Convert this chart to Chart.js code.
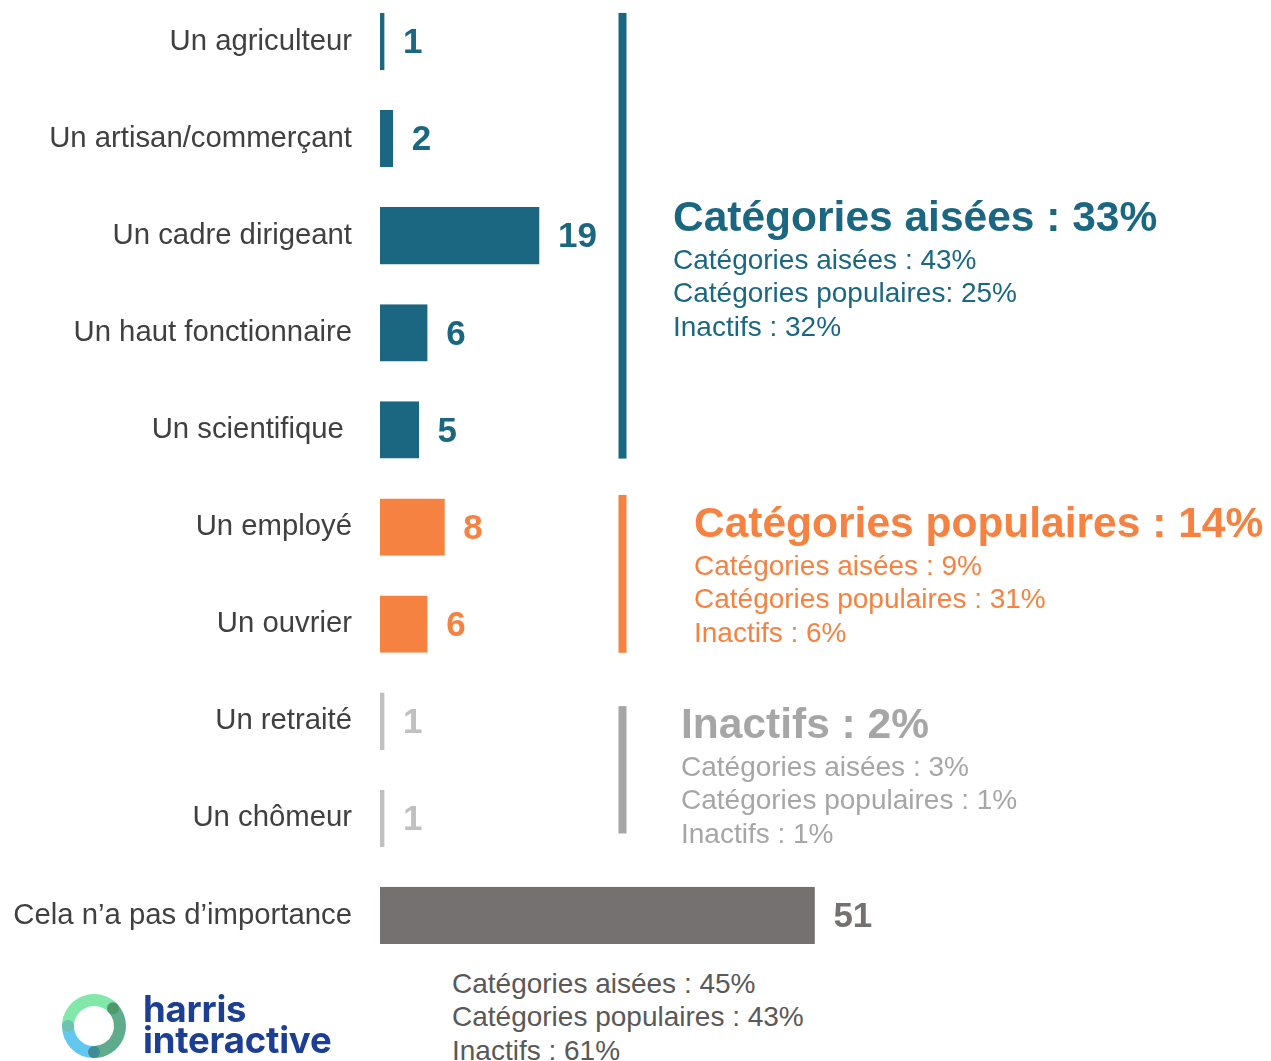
<!DOCTYPE html>
<html lang="fr">
<head>
<meta charset="utf-8">
<title>Profession</title>
<script src="https://cdn.jsdelivr.net/npm/chart.js@4.4.1/dist/chart.umd.min.js"></script>
<style>
  html, body { margin: 0; padding: 0; background: #fff; }
  body {
    width: 1271px; height: 1061px; position: relative; overflow: hidden;
    font-family: "Liberation Sans", Arial, sans-serif;
  }
  #chart-wrap { position: absolute; left: 0; top: -7px; width: 1271px; height: 971px; }
  .note { position: absolute; white-space: nowrap; }
  .note .title { font-weight: bold; font-size: 42.5px; line-height: 42px; }
  .note .sub { font-size: 28px; line-height: 33.5px; margin-top: 4.5px; }
  .blue { color: #1b6781; }
  .orange { color: #f58240; }
  .grey { color: #a6a6a6; }
  #bottom-note { position: absolute; left: 452px; top: 966.5px; font-size: 28px; line-height: 33.5px; color: #595959; white-space: nowrap; }
  #logo { position: absolute; left: 0; top: 960px; }
  #logo-text {
    position: absolute; left: 143px; top: 994px;
    font-family: Inter, "Noto Sans", sans-serif; font-weight: 700; font-size: 36.5px;
    line-height: 31px; letter-spacing: -0.2px; color: #1c3f94;
  }
</style>
</head>
<body>
<div id="chart-wrap"><canvas id="professionChart"></canvas></div>

<!-- Group summaries -->
<div class="note blue" style="left:673px; top:196px;">
  <div class="title">Catégories aisées : 33%</div>
  <div class="sub">Catégories aisées : 43%<br>Catégories populaires: 25%<br>Inactifs : 32%</div>
</div>
<div class="note orange" style="left:694px; top:502px;">
  <div class="title">Catégories populaires : 14%</div>
  <div class="sub">Catégories aisées : 9%<br>Catégories populaires : 31%<br>Inactifs : 6%</div>
</div>
<div class="note grey" style="left:681px; top:703px;">
  <div class="title">Inactifs : 2%</div>
  <div class="sub">Catégories aisées : 3%<br>Catégories populaires : 1%<br>Inactifs : 1%</div>
</div>
<div id="bottom-note">Catégories aisées : 45%<br>Catégories populaires : 43%<br>Inactifs : 61%</div>

<!-- Logo -->
<svg id="logo" width="140" height="101" viewBox="0 0 140 101">
  <g fill="none" stroke-width="12">
    <path d="M68 66 A26 26 0 0 1 113 48.3" stroke="#82e8a9"/>
    <path d="M113 48.3 A26 26 0 0 1 94 92" stroke="#5fac8d"/>
    <path d="M94 92 A26 26 0 0 1 68 66" stroke="#63c7ef"/>
  </g>
  <circle cx="113" cy="48.3" r="6" fill="#4c9a6a"/>
  <circle cx="68" cy="66" r="6" fill="#6ec1b0"/>
  <circle cx="94" cy="92" r="6" fill="#3d8c98"/>
</svg>
<div id="logo-text">harris<br>interactive</div>

<script>
// Data
const categories = [
	"Un agriculteur",
	"Un artisan/commerçant",
	"Un cadre dirigeant",
	"Un haut fonctionnaire",
	"Un scientifique ",
	"Un employé",
	"Un ouvrier",
	"Un retraité",
	"Un chômeur",
	"Cela n’a pas d’importance",
];
const values = [1, 2, 19, 6, 5, 8, 6, 1, 1, 51];

// Styles
const BLUE = "#1b6781";
const ORANGE = "#f58240";
const LIGHT_GREY = "#c0c0c0";
const DARK_GREY = "#767171";
const barColors = [BLUE, BLUE, BLUE, BLUE, BLUE, ORANGE, ORANGE, LIGHT_GREY, LIGHT_GREY, DARK_GREY];

// vertical brackets next to each group (bar indexes, extra inset in px)
const groupLines = [
	{ from: 0, to: 4, color: BLUE, insetTop: 0, insetBottom: 0 },
	{ from: 5, to: 6, color: ORANGE, insetTop: -3.5, insetBottom: 0 },
	{ from: 7, to: 8, color: "#a6a6a6", insetTop: 13.5, insetBottom: 13.5 },
];

const valueLabels = {
	id: "valueLabels",
	afterDatasetsDraw(chart) {
		const ctx = chart.ctx;
		const meta = chart.getDatasetMeta(0);
		ctx.save();
		ctx.font = 'bold 35px "Liberation Sans", Arial, sans-serif';
		ctx.textBaseline = "middle";
		ctx.textAlign = "left";
		meta.data.forEach(function (bar, i) {
			ctx.fillStyle = barColors[i];
			ctx.fillText(String(values[i]), bar.x + 18.5, bar.y + 2);
		});
		ctx.restore();
	},
};

const groupBrackets = {
	id: "groupBrackets",
	afterDatasetsDraw(chart) {
		const ctx = chart.ctx;
		const bars = chart.getDatasetMeta(0).data;
		ctx.save();
		groupLines.forEach(function (g) {
			const top = bars[g.from].y - bars[g.from].height / 2 + g.insetTop;
			const bottom = bars[g.to].y + bars[g.to].height / 2 - g.insetBottom;
			ctx.fillStyle = g.color;
			ctx.fillRect(618.5, top, 8, bottom - top);
		});
		ctx.restore();
	},
};

const ctx = document.getElementById("professionChart").getContext("2d");
new Chart(ctx, {
	type: "bar",
	data: {
		labels: categories,
		datasets: [
			{
				data: values,
				backgroundColor: barColors,
				borderColor: "#ffffff",
				borderWidth: { left: 4, top: 0, right: 0, bottom: 0 },
				borderSkipped: false,
				barPercentage: 0.59,
				categoryPercentage: 1,
			},
		],
	},
	options: {
		indexAxis: "y",
		responsive: true,
		maintainAspectRatio: false,
		devicePixelRatio: 1,
		animation: false,
		layout: { padding: 0 },
		plugins: {
			legend: { display: false },
			tooltip: { enabled: false },
		},
		scales: {
			x: {
				display: false,
				min: 0,
				max: 104,
			},
			y: {
				grid: { display: false, drawTicks: false },
				border: { display: false },
				ticks: {
					color: "#404040",
					padding: 24,
					font: { family: '"Liberation Sans", Arial, sans-serif', size: 29.3 },
				},
				afterFit(scale) {
					scale.width = 376;
					scale.paddingTop = 0;
					scale.paddingBottom = 0;
				},
			},
		},
	},
	plugins: [groupBrackets, valueLabels],
});
</script>
</body>
</html>
